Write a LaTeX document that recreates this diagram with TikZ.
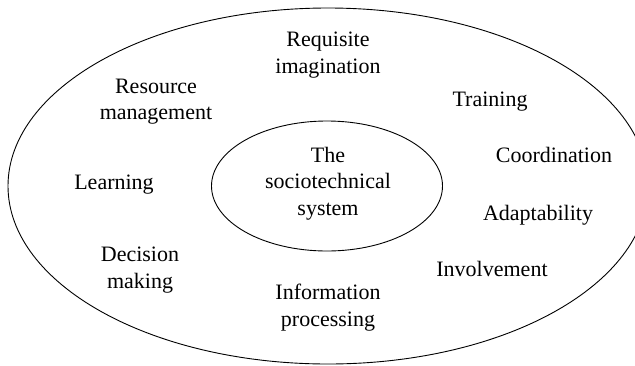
\documentclass[tikz,border=0pt]{standalone}
\usepackage{fontspec}
\setmainfont{Liberation Serif}
\usetikzlibrary{shapes.geometric}
\tikzset{
  ring/.style={draw, ellipse, line width=0.9pt, inner sep=0pt},
  lbl/.style={align=center, font=\fontsize{22}{26.5}\selectfont, inner sep=0pt}
}
\begin{document}
\begin{tikzpicture}[x=1pt,y=-1pt]
\useasboundingbox (0,0) rectangle (635,365);
\clip (0,0) rectangle (635,365);
\node[ring, minimum width=640pt, minimum height=356pt] (outer) at (328,186) {};
\node[ring, minimum width=231pt, minimum height=130pt] (inner) at (327,186) {};
\node[lbl] (core) at (328,183.5) {The\\sociotechnical\\system};
\node[lbl] (req) at (328,55) {Requisite\\imagination};
\node[lbl] (res) at (156,101.5) {Resource\\management};
\node[lbl] (tra) at (490,102) {Training};
\node[lbl] (coo) at (554,155) {Coordination};
\node[lbl] (lea) at (114,185) {Learning};
\node[lbl] (ada) at (538,215) {Adaptability};
\node[lbl] (dec) at (140,270) {Decision\\making};
\node[lbl] (inv) at (492,269) {Involvement};
\node[lbl] (inf) at (328,307.5) {Information\\processing};
\end{tikzpicture}
\end{document}
